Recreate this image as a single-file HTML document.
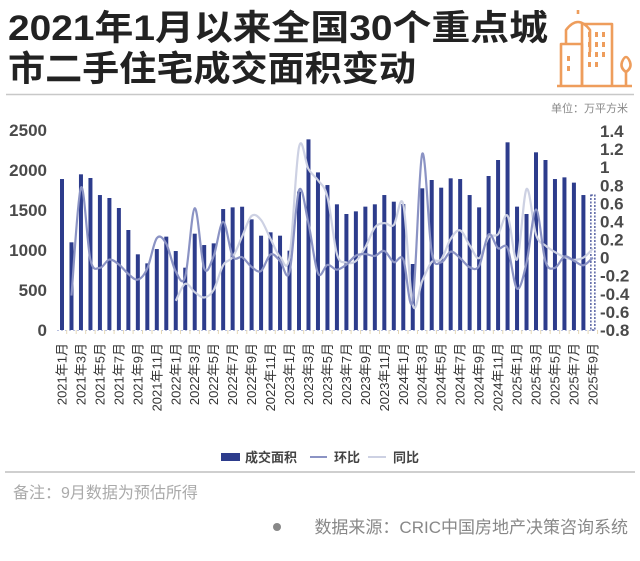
<!DOCTYPE html>
<html><head><meta charset="utf-8">
<style>
html,body{margin:0;padding:0;background:#fff;}
body{width:640px;height:561px;overflow:hidden;position:relative;font-family:"Liberation Sans","Noto Sans CJK SC",sans-serif;}
</style></head>
<body>
<svg id="s" width="640" height="561" xmlns="http://www.w3.org/2000/svg" style="position:absolute;left:0;top:0">
<g font-family="'Liberation Sans','Noto Sans CJK SC',sans-serif">
<text x="8" y="40" font-size="35" font-weight="bold" fill="#222" textLength="540" lengthAdjust="spacingAndGlyphs">2021年1月以来全国30个重点城</text>
<text x="8" y="81" font-size="35" font-weight="bold" fill="#222" textLength="408" lengthAdjust="spacingAndGlyphs">市二手住宅成交面积变动</text>
<line x1="6" y1="94.5" x2="634" y2="94.5" stroke="#c8c8c8" stroke-width="1.5"/>
<g fill="none" stroke="#ee9d5c" stroke-width="2.6" stroke-linejoin="round">
<path d="M557 86 H632"/>
<path d="M561 86 V44 H582 V86"/>
<path d="M566 44 V30 Q578 14 590 30 V52"/>
<path d="M578 14 V10"/>
<path d="M582 86 V24 H612 V86"/>
<path d="M626 86 V72"/>
<path d="M626 72 Q620 68 622 62 Q626 52 630 62 Q632 68 626 72Z"/>
</g>
<g fill="#ee9d5c">
<rect x="567" y="56" width="3" height="5"/><rect x="567" y="66" width="3" height="5"/>
<rect x="588" y="32" width="3" height="5"/><rect x="595" y="32" width="3" height="5"/><rect x="602" y="32" width="3" height="5"/>
<rect x="588" y="42" width="3" height="5"/><rect x="595" y="42" width="3" height="5"/><rect x="602" y="42" width="3" height="5"/>
<rect x="588" y="52" width="3" height="5"/><rect x="595" y="52" width="3" height="5"/><rect x="602" y="52" width="3" height="5"/>
<rect x="588" y="62" width="3" height="5"/><rect x="595" y="62" width="3" height="5"/>
</g>
<text x="628" y="112" font-size="11" fill="#888" text-anchor="end">单位：万平方米</text>
<g id="chart"></g>
<g font-size="13" font-weight="bold" fill="#444">
<rect x="221" y="453" width="19" height="8" fill="#2d3c8c"/>
<text x="245" y="462">成交面积</text>
<line x1="310" y1="457" x2="327" y2="457" stroke="#8b93c4" stroke-width="2"/>
<text x="334" y="462">环比</text>
<line x1="368" y1="457" x2="386" y2="457" stroke="#cdd1e3" stroke-width="2"/>
<text x="393" y="462">同比</text>
</g>
<line x1="5" y1="472" x2="635" y2="472" stroke="#cfcfcf" stroke-width="2"/>
<text x="13" y="498" font-size="16" fill="#aaa">备注：9月数据为预估所得</text>
<circle cx="277" cy="527" r="4" fill="#888"/>
<text x="628" y="533" font-size="17" fill="#888" text-anchor="end">数据来源：CRIC中国房地产决策咨询系统</text>
</g>
</svg>
<script>
var v=[1887,1096,1946,1900,1687,1650,1525,1250,946,833,1012,1167,
987,779,1204,1062,1083,1512,1533,1541,1383,1179,1221,1179,
992,1730,2383,1970,1812,1571,1450,1483,1542,1571,1687,1604,
1575,825,1771,1875,1779,1896,1887,1687,1533,1925,2125,2346,
1542,1450,2221,2125,1887,1908,1842,1687,1687];
var NS="http://www.w3.org/2000/svg",g=document.getElementById('chart');
function el(t,a,txt){var e=document.createElementNS(NS,t);for(var k in a)e.setAttribute(k,a[k]);if(txt!=null)e.textContent=txt;g.appendChild(e);return e;}
var X=function(i){return 62+i*9.48;};
var YL=function(val){return 330-val*0.08;};
var YR=function(r){return 330-(r+0.8)*90.45;};
for(var k=0;k<=5;k++){el('text',{x:47,y:YL(k*500)+6,'font-size':17,'font-weight':'bold',fill:'#4a4a4a','text-anchor':'end'},String(k*500));}
var rl=['1.4','1.2','1','0.8','0.6','0.4','0.2','0','-0.2','-0.4','-0.6','-0.8'];
for(var k=0;k<rl.length;k++){el('text',{x:600,y:YR(parseFloat(rl[k]))+6,'font-size':17,'font-weight':'bold',fill:'#4a4a4a'},rl[k]);}
el('line',{x1:57,y1:330.5,x2:598,y2:330.5,stroke:'#b8c0e0','stroke-width':1,'stroke-dasharray':'2,2'});
for(var i=0;i<v.length;i++){
 el('line',{x1:X(i)+4.7,y1:330,x2:X(i)+4.7,y2:334,stroke:'#e6d9b8','stroke-width':1});
 if(i<v.length-1) el('rect',{x:X(i)-2,y:YL(v[i]),width:4,height:v[i]*0.08,fill:'#2d3c8c'});
 else el('rect',{x:X(i)-2,y:YL(v[i]),width:4,height:v[i]*0.08,fill:'#fff',stroke:'#2d3c8c','stroke-width':1.2,'stroke-dasharray':'2,1.5'});
 if(i%2==0){var m=(i%12)+1,yr=2021+Math.floor(i/12);
  el('text',{x:0,y:0,transform:'translate('+(X(i)+4.5)+',343) rotate(-90)','font-size':13,fill:'#333','text-anchor':'end'},yr+'年'+m+'月');}
}
function smooth(pts){var d='M'+pts[0][0]+' '+pts[0][1];
 for(var i=0;i<pts.length-1;i++){var p0=pts[i-1]||pts[i],p1=pts[i],p2=pts[i+1],p3=pts[i+2]||p2;
  var c1=[p1[0]+(p2[0]-p0[0])/6,p1[1]+(p2[1]-p0[1])/6],c2=[p2[0]-(p3[0]-p1[0])/6,p2[1]-(p3[1]-p1[1])/6];
  d+=' C'+c1[0].toFixed(1)+' '+c1[1].toFixed(1)+' '+c2[0].toFixed(1)+' '+c2[1].toFixed(1)+' '+p2[0].toFixed(1)+' '+p2[1].toFixed(1);}
 return d;}
var yo=[];for(var i=12;i<v.length;i++)yo.push([X(i),YR(v[i]/v[i-12]-1)]);
el('path',{d:smooth(yo),fill:'none',stroke:'#cdd1e3','stroke-width':2.2});
var mo=[];for(var i=1;i<v.length;i++)mo.push([X(i),YR(v[i]/v[i-1]-1)]);
el('path',{d:smooth(mo),fill:'none',stroke:'#8b93c4','stroke-width':2.2});
</script>
</body></html>
